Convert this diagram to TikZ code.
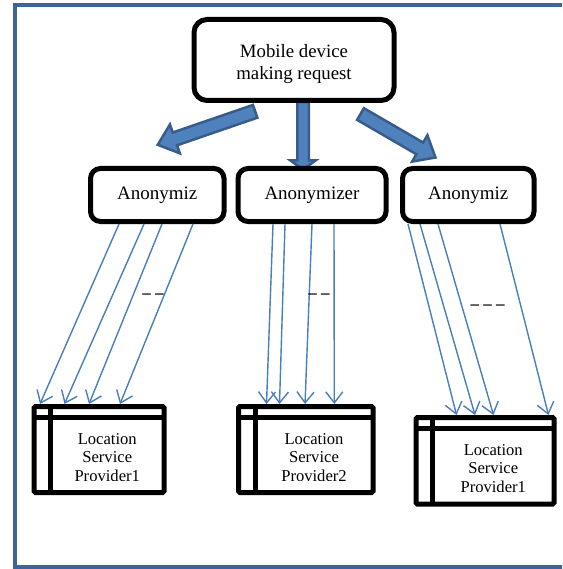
\documentclass[tikz,border=0pt]{standalone}
\usepackage{fontspec}
\setmainfont{Liberation Serif}
\usetikzlibrary{arrows.meta,shapes.arrows,calc}
\definecolor{framec}{HTML}{406496}
\definecolor{linec}{HTML}{4A7EBB}
\definecolor{bafill}{HTML}{4F81BD}
\definecolor{badraw}{HTML}{385D8A}
\begin{document}
\begin{tikzpicture}[x=1pt,y=-1pt,
  rbox/.style={draw=black,line width=5pt,fill=white,inner sep=0pt,outer sep=0pt},
  topbox/.style={rbox,rounded corners=13pt,minimum width=200pt,minimum height=81pt},
  anbox/.style={rbox,rounded corners=10pt,minimum height=53pt,
    font=\fontsize{19}{22}\selectfont},
  provbox/.style={draw=black,line width=5pt,fill=white,inner sep=0pt,outer sep=0pt,
    rounded corners=1.5pt,minimum height=86pt},
  provline/.style={draw=black,line width=5pt},
  provtext/.style={inner sep=0pt,align=center,anchor=base,
    font=\fontsize{16.6}{18.7}\selectfont},
  toptext/.style={inner sep=0pt,align=center,font=\fontsize{18.8}{21.7}\selectfont},
  dashtext/.style={inner sep=0pt,anchor=base,font=\bfseries\fontsize{17}{20}\selectfont},
  lsp/.style={draw=linec,line width=1.4pt,-{Straight Barb[length=11pt,width=17pt]}},
  bigarrow/.style={single arrow,draw=badraw,fill=bafill,line width=2.5pt,
    inner xsep=0pt,inner ysep=5.5pt,outer sep=0pt,
    single arrow head extend=8.5pt,single arrow tip angle=80},
  midarrow/.style={bigarrow,inner ysep=4.5pt,single arrow head extend=7pt,
    single arrow tip angle=108}]
\useasboundingbox (0,0) rectangle (562,569);
\clip (0,0) rectangle (562,569);
% outer frame
\draw[framec,line width=4pt] (15,5) rectangle (620,567);

% block arrow end points
\coordinate (bLt) at (259,110);
\coordinate (bLh) at (161.5,143.5);
\coordinate (bMt) at (303,100);
\coordinate (bMh) at (303,167.5);
\coordinate (bRt) at (357,112);
\coordinate (bRh) at (432,155.5);
\path let \p1=(bLt), \p2=(bLh), \n1={atan2(\y2-\y1,\x2-\x1)}, \n2={veclen(\x2-\x1,\y2-\y1)} in
  ($(bLt)!0.5!(bLh)$) node[bigarrow,rotate=\n1,minimum height=\n2] (arrL) {};
\path let \p1=(bMt), \p2=(bMh), \n1={atan2(\y2-\y1,\x2-\x1)}, \n2={veclen(\x2-\x1,\y2-\y1)} in
  ($(bMt)!0.5!(bMh)$) node[midarrow,rotate=\n1,minimum height=\n2] (arrM) {};
\path let \p1=(bRt), \p2=(bRh), \n1={atan2(\y2-\y1,\x2-\x1)}, \n2={veclen(\x2-\x1,\y2-\y1)} in
  ($(bRt)!0.5!(bRh)$) node[bigarrow,rotate=\n1,minimum height=\n2] (arrR) {};

% top box
\node[topbox] (mob) at (294,60) {};
\node[toptext] (mobt) at (294,64) {Mobile device\\making request};

% anonymizers
\node[anbox,minimum width=133.5pt] (an1) at (157.25,195) {Anonymiz};
\node[anbox,minimum width=148pt] (an2) at (312,195) {Anonymizer};
\node[anbox,minimum width=131.5pt] (an3) at (468.25,195) {Anonymiz};

% providers
\node[provbox,minimum width=130pt] (p1) at (99,449.5) {};
\node[provbox,minimum width=134.5pt] (p2) at (305.75,449.5) {};
\node[provbox,minimum width=138pt,minimum height=86.5pt] (p3) at (485,460.75) {};
\foreach \p in {p1,p2,p3}{
  \draw[provline] ($(\p.north west)+(0,10.5)$) -- ($(\p.north east)+(0,10.5)$);
  \draw[provline] ($(\p.north west)+(16.5,0)$) -- ($(\p.south west)+(16.5,0)$);
}
\begin{scope}
  \clip ($(p1.north west)+(19,13)$) rectangle ($(p1.south east)+(-2.5,-12.5)$);
  \node[provtext] (p1t) at ($(p1.north west)!0.5!(p1.north east)+(8.25,74.9)$) {Location\\Service\\Provider1};
\end{scope}
\begin{scope}
  \clip ($(p2.north west)+(19,13)$) rectangle ($(p2.south east)+(-2.5,-12.5)$);
  \node[provtext] (p2t) at ($(p2.north west)!0.5!(p2.north east)+(8.25,74.9)$) {Location\\Service\\Provider2};
\end{scope}
\begin{scope}
  \clip ($(p3.north west)+(19,13)$) rectangle ($(p3.south east)+(-2.5,-12.5)$);
  \node[provtext] (p3t) at ($(p3.north west)!0.5!(p3.north east)+(8.25,74.9)$) {Location\\Service\\Provider1};
\end{scope}

% thin connectors
\coordinate (s11) at (119,224); \coordinate (e11) at (40,404);
\coordinate (s12) at (144,224); \coordinate (e12) at (64.5,404);
\coordinate (s13) at (162,224); \coordinate (e13) at (89,404);
\coordinate (s14) at (193,224); \coordinate (e14) at (120,404);
\coordinate (s21) at (273,224); \coordinate (e21) at (266.5,404);
\coordinate (s22) at (285,224); \coordinate (e22) at (279.5,404);
\coordinate (s23) at (312,224); \coordinate (e23) at (305,404);
\coordinate (s24) at (334,224); \coordinate (e24) at (334.3,404);
\coordinate (s31) at (408,224); \coordinate (e31) at (456.5,415);
\coordinate (s32) at (420,224); \coordinate (e32) at (475,415);
\coordinate (s33) at (438,224); \coordinate (e33) at (493.5,415);
\coordinate (s34) at (500,224); \coordinate (e34) at (548.5,415);
\foreach \g in {1,2,3}{\foreach \k in {1,2,3,4}{\draw[lsp] (s\g\k) -- (e\g\k);}}

% dashes
\node[dashtext] (d1) at (153,298) {– –};
\node[dashtext] (d2) at (319,298) {– –};
\node[dashtext] (d3) at (487.5,309) {– – –};
\end{tikzpicture}
\end{document}
